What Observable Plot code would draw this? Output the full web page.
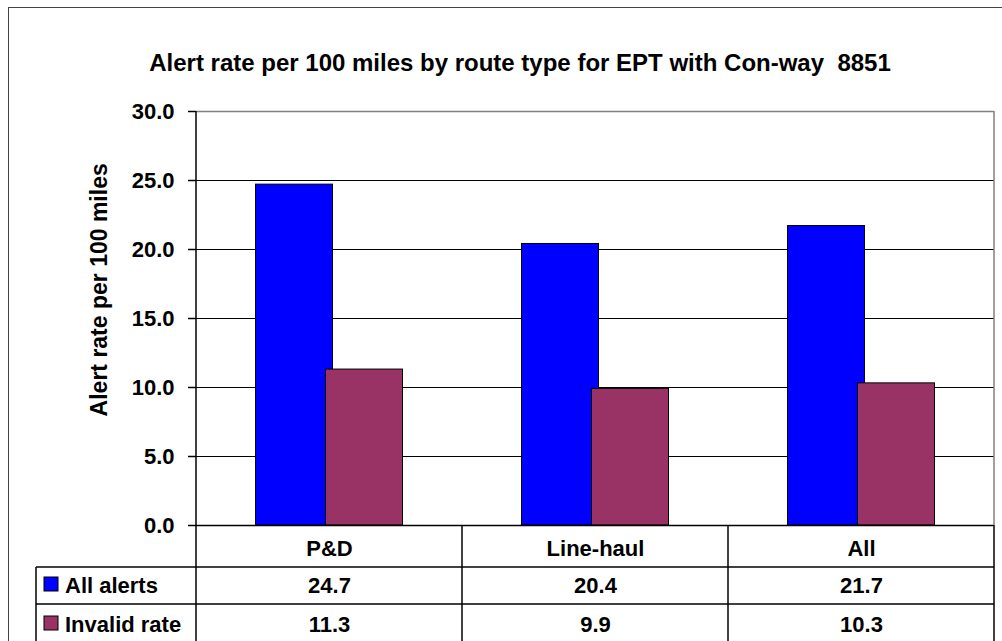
<!DOCTYPE html>
<html><head><meta charset="utf-8">
<script src="https://cdn.jsdelivr.net/npm/d3@7"></script>
<script src="https://cdn.jsdelivr.net/npm/@observablehq/plot@0.6"></script>
<style>
body{margin:0;background:#fff;font-family:"Liberation Sans",Arial,sans-serif;}
#wrap{position:relative;width:1002px;height:641px;overflow:hidden;background:#fff;}
#title{height:96px;box-sizing:border-box;padding-top:51px;padding-left:38px;text-align:center;font-weight:bold;font-size:24px;line-height:24px;color:#000;white-space:pre;}
#border{position:absolute;left:8px;top:7px;width:1200px;height:800px;border:1.5px solid #444;pointer-events:none;}
</style></head><body>
<div id="wrap"><div id="title"></div><div id="chart"></div><div id="border"></div></div>
<script>
const chartTitle = "Alert rate per 100 miles by route type for EPT with Con-way  8851";
const yTitle = "Alert rate per 100 miles";
const categories = ["P&D", "Line-haul", "All"];
const seriesNames = ["All alerts", "Invalid rate"];
const allAlerts = [24.7, 20.4, 21.7];
const invalidRate = [11.3, 9.9, 10.3];
const seriesColors = ["#0000FF", "#993366"];
const yTicks = [0, 5, 10, 15, 20, 25, 30];
const gridTicks = [5, 10, 15, 20, 25];

document.getElementById("title").textContent = chartTitle;

const seriesValues = [allAlerts, invalidRate];
const rows = categories.flatMap((c, i) => seriesNames.map((s, j) => ({category: c, series: s, value: seriesValues[j][i]})));

const font = "'Liberation Sans', Arial, sans-serif";
const H = 545, headerH = 42, rowH = 37;

const plot = Plot.plot({
  width: 1002, height: H,
  marginTop: 15, marginBottom: 116, marginLeft: 195, marginRight: 8,
  style: {fontFamily: font, background: "transparent", color: "#000"},
  fx: {domain: categories, padding: 0},
  x: {domain: seriesNames, paddingInner: 0, paddingOuter: 0.875, axis: null},
  y: {domain: [0, 30]},
  color: {domain: seriesNames, range: seriesColors},
  marks: [
    Plot.ruleY(gridTicks, {stroke: "#000", strokeWidth: 1}),
    Plot.ruleY([30], {stroke: "#808080", strokeWidth: 1.5}),
    Plot.barY(rows, {fx: "category", x: "series", y: "value", fill: "series", stroke: "#000", strokeWidth: 1, insetLeft: -3.5, insetRight: -3.5}),
    Plot.ruleY([0], {stroke: "#000", strokeWidth: 1.5}),
    Plot.axisY({ticks: yTicks, tickFormat: d => d.toFixed(1), tickSize: 8, tickPadding: 14, fontSize: 22, fontWeight: "bold", label: null, stroke: "#000", strokeWidth: 1.5}),
    Plot.axisFx({anchor: "bottom", tickSize: 0, tickPadding: 15, fontSize: 22, fontWeight: "bold", label: null}),
    Plot.text(rows.filter(d => d.series === seriesNames[0]), {fx: "category", text: d => d.value.toFixed(1), frameAnchor: "bottom", lineAnchor: "top", dy: 52, fontSize: 22, fontWeight: "bold"}),
    Plot.text(rows.filter(d => d.series === seriesNames[1]), {fx: "category", text: d => d.value.toFixed(1), frameAnchor: "bottom", lineAnchor: "top", dy: 91, fontSize: 22, fontWeight: "bold"})
  ]
});
document.getElementById("chart").appendChild(plot);

// Data table grid, legend keys and axis title
const svg = d3.select(plot);
const fx = plot.scale("fx"), y = plot.scale("y");
const bw = fx.bandwidth;
const x0 = fx.apply(categories[0]);
const x1 = fx.apply(categories[categories.length - 1]) + bw;
const yb = y.apply(0), yt = y.apply(30);
const tableLeft = 36;
const g = svg.append("g").attr("stroke", "#000").attr("stroke-width", 1.5);
// y axis line
g.append("line").attr("x1", x0).attr("x2", x0).attr("y1", yt).attr("y2", H);
// right plot border (gray) and table right border
g.append("line").attr("x1", x1).attr("x2", x1).attr("y1", yt).attr("y2", yb).attr("stroke", "#808080");
g.append("line").attr("x1", x1).attr("x2", x1).attr("y1", yb).attr("y2", H);
// column separators
categories.slice(1).forEach(c => {
  const x = fx.apply(c);
  g.append("line").attr("x1", x).attr("x2", x).attr("y1", yb).attr("y2", H);
});
// row separators
[yb + headerH, yb + headerH + rowH].forEach(yy => {
  g.append("line").attr("x1", tableLeft).attr("x2", x1).attr("y1", yy).attr("y2", yy);
});
g.append("line").attr("x1", tableLeft).attr("x2", tableLeft).attr("y1", yb + headerH).attr("y2", H);
// legend keys + labels
const capTops = [yb + 52, yb + 91];
seriesNames.forEach((s, i) => {
  svg.append("rect").attr("x", 44).attr("y", capTops[i]).attr("width", 14).attr("height", 14)
    .attr("fill", seriesColors[i]).attr("stroke", "#000").attr("stroke-width", 1);
  svg.append("text").attr("x", 65).attr("y", capTops[i] + 15.7).attr("font-size", 22).attr("font-weight", "bold")
    .attr("font-family", font).attr("text-anchor", "start").attr("fill", "#000").text(s);
});
// y axis title
svg.append("text").attr("transform", `translate(107,${yt + (yb - yt) * 0.432}) rotate(-90)`)
  .attr("text-anchor", "middle").attr("font-size", 23).attr("font-weight", "bold").attr("font-family", font)
  .attr("fill", "#000").text(yTitle);
</script>
</body></html>
